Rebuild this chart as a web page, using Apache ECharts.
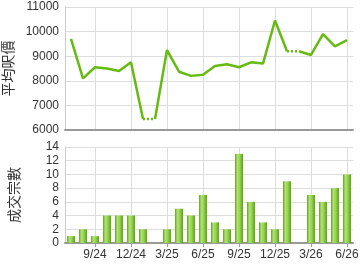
<!DOCTYPE html>
<html>
<head>
<meta charset="utf-8">
<script src="https://cdn.jsdelivr.net/npm/echarts@6/dist/echarts.min.js"></script>
<style>
html, body { margin: 0; padding: 0; background: #fff; }
#chart { width: 360px; height: 270px; }
</style>
</head>
<body>
<div id="chart"></div>
<script>
const months = ['7/24', '8/24', '9/24', '10/24', '11/24', '12/24', '1/25', '2/25', '3/25', '4/25', '5/25', '6/25',
    '7/25', '8/25', '9/25', '10/25', '11/25', '12/25', '1/26', '2/26', '3/26', '4/26', '5/26', '6/26'];
const avgPrice = [9700, 8100, 8550, 8500, 8400, 8750, 6450, 6450, 9250, 8370, 8200, 8250,
    8600, 8670, 8550, 8750, 8700, 10450, 9200, 9200, 9050, 9900, 9400, 9650];
const deals = [1, 2, 1, 4, 4, 4, 2, 0, 2, 5, 4, 7, 3, 2, 13, 6, 3, 2, 9, 0, 7, 6, 8, 10];
// months with no deals: line into them is dotted
const noDeal = [7, 19];

const chart = echarts.init(document.getElementById('chart'));

const showLabel = function(idx) {
    return (idx - 2) % 3 === 0;
};
const green = '#66bb11';

// split the price line into solid runs and dotted gaps
let series = [];
let start = 0;
const cuts = noDeal.concat([months.length]);
cuts.forEach(function(c) {
    const end = c - 1;
    series.push({
        type: 'line', xAxisIndex: 0, yAxisIndex: 0, symbol: 'none',
        lineStyle: { color: green, width: 2.5 },
        data: avgPrice.map((v, i) => (i >= start && i <= end ? v : null))
    });
    if (c < months.length) {
        series.push({
            type: 'line', xAxisIndex: 0, yAxisIndex: 0, symbol: 'none',
            lineStyle: { color: green, width: 2.5, type: [2, 2] },
            data: avgPrice.map((v, i) => (i === c - 1 || i === c ? v : null))
        });
    }
    start = c;
});

series.push({
    type: 'bar', xAxisIndex: 1, yAxisIndex: 1, barWidth: 8,
    itemStyle: {
        color: {
            type: 'linear', x: 0, y: 0, x2: 1, y2: 0,
            colorStops: [
                { offset: 0, color: '#5da914' },
                { offset: 0.3, color: '#b2e07a' },
                { offset: 0.6, color: '#94d24e' },
                { offset: 1, color: '#5aa40e' }
            ]
        }
    },
    data: deals
});

const xAxisBase = function(gridIndex, labels) {
    return {
        type: 'category', gridIndex: gridIndex, data: months, boundaryGap: true,
        axisLine: { lineStyle: { color: '#999', width: 2 } },
        axisTick: { show: labels, alignWithLabel: true, interval: showLabel, length: 4, lineStyle: { color: '#999' } },
        axisLabel: { show: labels, interval: showLabel, color: '#333', fontSize: 12, fontFamily: 'Liberation Sans', margin: 6 },
        splitLine: { show: true, alignWithLabel: true, interval: showLabel, lineStyle: { color: '#dddddd' } }
    };
};

const yAxisBase = function(gridIndex, name, min, max, step) {
    return {
        type: 'value', gridIndex: gridIndex, min: min, max: max, interval: step,
        name: name, nameLocation: 'middle', nameGap: 44, nameRotate: 90,
        nameTextStyle: { color: '#333', fontSize: 14, fontFamily: 'Noto Sans CJK TC' },
        axisLine: { show: true, lineStyle: { color: '#cccccc' } },
        axisTick: { show: false },
        axisLabel: { color: '#333', fontSize: 12, fontFamily: 'Liberation Sans', margin: 6, formatter: v => String(v) },
        splitLine: { lineStyle: { color: '#dddddd' } }
    };
};

const option = {
    animation: false,
    grid: [
        { left: 65, top: 7, right: 7, height: 123, outerBoundsMode: 'none', containLabel: false },
        { left: 65, top: 147, right: 7, height: 96, outerBoundsMode: 'none', containLabel: false }
    ],
    xAxis: [xAxisBase(0, false), xAxisBase(1, true)],
    yAxis: [
        yAxisBase(0, '平均呎價', 6000, 11000, 1000),
        yAxisBase(1, '成交宗數', 0, 14, 2)
    ],
    series: series
};
chart.setOption(option);
</script>
</body>
</html>
